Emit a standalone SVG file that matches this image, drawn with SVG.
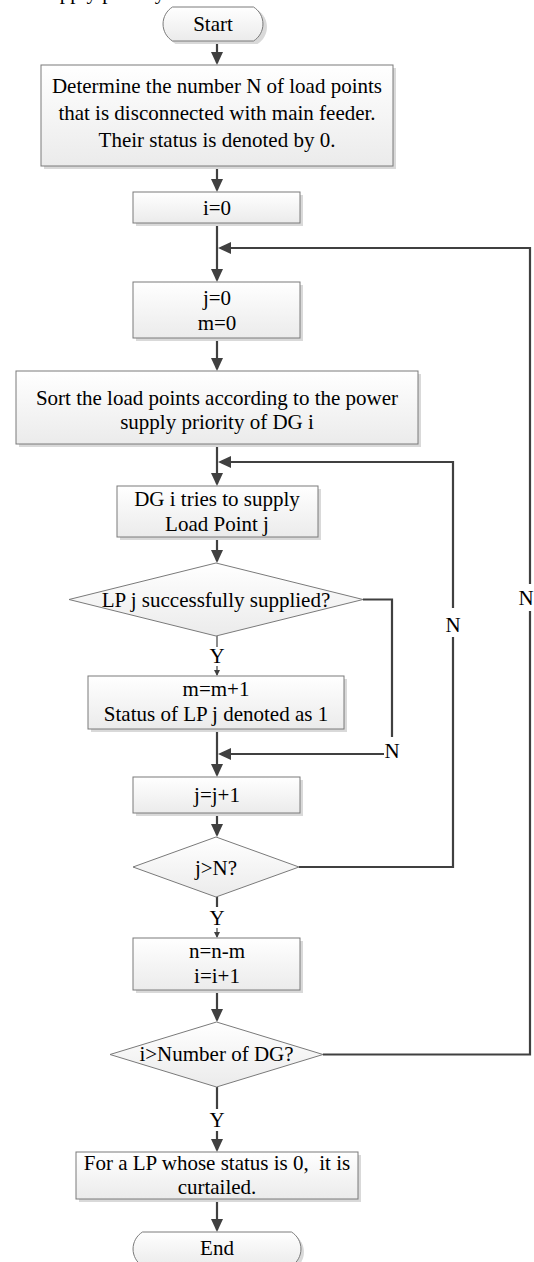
<svg xmlns="http://www.w3.org/2000/svg" width="534" height="1262" viewBox="0 0 534 1262">
<style>
text{font-family:"Liberation Serif","Times New Roman",serif;font-size:21px;fill:#000;text-anchor:middle}
.box{fill:url(#g);stroke:#7a7a7a;stroke-width:1}
.sh{fill:#d9d9d9}
.c{fill:none;stroke:#404040;stroke-width:2.2}
.ct{fill:none;stroke:#404040;stroke-width:1.2}
.pre{white-space:pre}
</style>
<defs>
<linearGradient id="g" x1="0" y1="0" x2="0" y2="1">
<stop offset="0" stop-color="#ffffff"/>
<stop offset="1" stop-color="#ebebeb"/>
</linearGradient>
<marker id="ah" viewBox="0 0 13 12" refX="11" refY="6" markerWidth="13" markerHeight="12" orient="auto" markerUnits="userSpaceOnUse">
<path d="M0,0 L13,6 L0,12 z" fill="#404040"/>
</marker>
<marker id="ahs" viewBox="0 0 6 6" refX="5" refY="3" markerWidth="6" markerHeight="6" orient="auto" markerUnits="userSpaceOnUse">
<path d="M0,0 L6,3 L0,6 z" fill="#404040"/>
</marker>
</defs>
<rect width="534" height="1262" fill="#fff"/>
<text x="41" y="-1" style="text-anchor:start">supply priority</text>

<g id="connectors">
<line class="c" x1="217" y1="41" x2="217" y2="63" marker-end="url(#ah)"/>
<line class="c" x1="217" y1="166" x2="217" y2="190" marker-end="url(#ah)"/>
<line class="c" x1="217" y1="223" x2="217" y2="280" marker-end="url(#ah)"/>
<line class="c" x1="217" y1="338" x2="217" y2="369" marker-end="url(#ah)"/>
<line class="c" x1="217" y1="444" x2="217" y2="484" marker-end="url(#ah)"/>
<line class="c" x1="217" y1="537" x2="217" y2="561" marker-end="url(#ah)"/>
<line class="ct" x1="217" y1="636" x2="217" y2="647"/>
<line class="ct" x1="217" y1="666" x2="217" y2="675" marker-end="url(#ahs)"/>
<line class="c" x1="217" y1="729" x2="217" y2="775" marker-end="url(#ah)"/>
<line class="c" x1="217" y1="813" x2="217" y2="835" marker-end="url(#ah)"/>
<line class="c" x1="217" y1="897" x2="217" y2="907"/>
<line class="ct" x1="217" y1="928" x2="217" y2="937" marker-end="url(#ahs)"/>
<line class="c" x1="217" y1="990" x2="217" y2="1020" marker-end="url(#ah)"/>
<line class="c" x1="217" y1="1087" x2="217" y2="1109"/>
<line class="c" x1="217" y1="1131" x2="217" y2="1150" marker-end="url(#ah)"/>
<line class="c" x1="217" y1="1199" x2="217" y2="1230" marker-end="url(#ah)"/>
<polyline class="c" points="363,599.5 392,599.5 392,737"/>
<line class="c" x1="384" y1="754" x2="220" y2="754" marker-end="url(#ah)"/>
<text x="392" y="758">N</text>
<polyline class="c" points="299,867 453,867 453,637"/>
<polyline class="c" points="453,608 453,462 220,462" marker-end="url(#ah)"/>
<text x="453" y="632">N</text>
<polyline class="c" points="323,1054.5 530,1054.5 530,611"/>
<polyline class="c" points="530,584 530,248 220,248" marker-end="url(#ah)"/>
<text x="526" y="605">N</text>
<text x="217" y="663">Y</text>
<text x="217" y="925">Y</text>
<text x="217" y="1127">Y</text>
</g>

<g id="start">
<path class="sh" d="M175.5,10 H257.5 A20,20 0 0 1 257.5,44 H175.5 A20,20 0 0 1 175.5,10 z"/>
<path class="box" d="M172.5,7 H253.5 A20,20 0 0 1 253.5,41 H172.5 A20,20 0 0 1 172.5,7 z"/>
<text x="213" y="31">Start</text>
</g>

<g id="determine">
<rect class="sh" x="44" y="68" width="352" height="101"/>
<rect class="box" x="41" y="65" width="352" height="101"/>
<text x="217" y="93">Determine the number N of load points</text>
<text x="217" y="120">that is disconnected with main feeder.</text>
<text x="217" y="147">Their status is denoted by 0.</text>
</g>

<g id="i0">
<rect class="sh" x="136" y="195" width="167" height="31"/>
<rect class="box" x="133" y="192" width="167" height="31"/>
<text x="217" y="215">i=0</text>
</g>

<g id="j0m0">
<rect class="sh" x="136" y="285" width="167" height="56"/>
<rect class="box" x="133" y="282" width="167" height="56"/>
<text x="217" y="305">j=0</text>
<text x="217" y="330">m=0</text>
</g>

<g id="sort">
<rect class="sh" x="19" y="374" width="402" height="73"/>
<rect class="box" x="16" y="371" width="402" height="73"/>
<text x="217" y="405">Sort the load points according to the power</text>
<text x="217" y="429">supply priority of DG i</text>
</g>

<g id="dgtry">
<rect class="sh" x="120" y="489" width="201" height="51"/>
<rect class="box" x="117" y="486" width="201" height="51"/>
<text x="217" y="506">DG i tries to supply</text>
<text x="217" y="531">Load Point j</text>
</g>

<g id="lpsupplied">
<polygon class="box" points="216,563 363,599.5 216,636 69,599.5"/>
<text x="216" y="607">LP j successfully supplied?</text>
</g>

<g id="mplus">
<rect class="sh" x="91" y="679" width="256" height="53"/>
<rect class="box" x="88" y="676" width="256" height="53"/>
<text x="216" y="696">m=m+1</text>
<text x="216" y="721">Status of LP j denoted as 1</text>
</g>

<g id="jplus">
<rect class="sh" x="136" y="780" width="167" height="36"/>
<rect class="box" x="133" y="777" width="167" height="36"/>
<text x="217" y="802">j=j+1</text>
</g>

<g id="jgtN">
<polygon class="box" points="216,837 299,867 216,897 133,867"/>
<text x="216" y="875">j&gt;N?</text>
</g>

<g id="nnm">
<rect class="sh" x="136" y="941" width="167" height="52"/>
<rect class="box" x="133" y="938" width="167" height="52"/>
<text x="217" y="958">n=n-m</text>
<text x="217" y="983">i=i+1</text>
</g>

<g id="igt">
<polygon class="box" points="216.5,1022 323,1054.5 216.5,1087 110,1054.5"/>
<text x="216.5" y="1061">i&gt;Number of DG?</text>
</g>

<g id="curtail">
<rect class="sh" x="79" y="1155" width="282" height="47"/>
<rect class="box" x="76" y="1152" width="282" height="47"/>
<text class="pre" x="217" y="1170">For a LP whose status is 0,  it is</text>
<text x="217" y="1194">curtailed.</text>
</g>

<g id="end">
<path class="sh" d="M145.5,1235 H294.5 A20,20 0 0 1 294.5,1269 H145.5 A20,20 0 0 1 145.5,1235 z"/>
<path class="box" d="M142.5,1232 H291.5 A20,20 0 0 1 291.5,1266 H142.5 A20,20 0 0 1 142.5,1232 z"/>
<text x="217" y="1255">End</text>
</g>
</svg>
